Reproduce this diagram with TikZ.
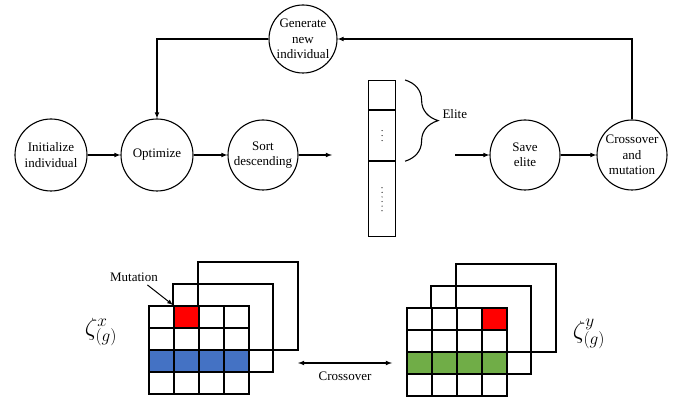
\documentclass[tikz,border=0pt]{standalone}
\usepackage{fontspec}
\setmainfont{Liberation Serif}
\usepackage{xcolor}
\usetikzlibrary{arrows,decorations.pathreplacing}
\definecolor{cellred}{RGB}{255,0,0}
\definecolor{cellblue}{RGB}{68,114,196}
\definecolor{cellgreen}{RGB}{112,173,71}
\tikzset{
	stage/.style={circle, draw, line width=1.1pt, minimum size=#1, inner sep=-1pt, align=center},
	stage/.default=72pt,
	link/.style={-latex, line width=1.1pt},
	slot/.style={draw, line width=1.1pt, minimum width=27pt, inner sep=0pt},
	cell/.style={draw, line width=1.4pt, fill=white},
	layer/.style={draw, line width=1.2pt},
	greek/.style={font=\fontsize{24}{28}\selectfont}
}

\begin{document}
\begin{tikzpicture}[x=1pt, y=-1pt, font=\fontsize{13}{15.5}\selectfont]
	\useasboundingbox (0,0) rectangle (681,398);

	% loop of stages
	\node[stage] (init) at (51,155) {Initialize\\individual};
	\node[stage] (opt) at (157,155) {Optimize};
	\node[stage=70pt] (sort) at (263,155) {Sort\\descending};
	\node[stage=70pt] (save) at (525,155) {Save\\elite};
	\node[stage=70pt] (cross) at (632,155) {Crossover\\and\\mutation};
	\node[stage=68pt, inner sep=-2pt] (gen) at (303,39) {Generate\\new\\individual};

	\coordinate (sortout) at (332,155);
	\coordinate (savein) at (455,155);

	\draw[link] (init) -- (opt);
	\draw[link] (opt) -- (sort);
	\draw[link] (sort) -- (sortout);
	\draw[link] (savein) -- (save);
	\draw[link] (save) -- (cross);
	\draw[link] (cross.north) |- (gen.east);
	\draw[link] (gen.west) -| (opt.north);

	% sorted population
	\node[slot, minimum height=29pt, anchor=north west] (c1) at (368,80) {};
	\node[slot, minimum height=50pt, anchor=north] (c2) at (c1.south) {};
	\node[slot, minimum height=75pt, anchor=north] (c3) at (c2.south) {};
	\foreach \k in {-1,0,1}
		\fill (c2.center) ++(0,5*\k) circle (0.6pt);
	\foreach \k in {0,...,5}
		\fill (c3.center) ++(0,-11.5+4.6*\k) circle (0.6pt);

	\draw[line width=1.1pt, decorate, decoration={brace, amplitude=33pt}]
		([xshift=9pt]c1.north east) -- ([xshift=9pt]c2.south east);
	\node[anchor=west] (elite) at (439,114) {Elite};

	% parent x
	\draw[layer] (198,262) rectangle ++(100,88);
	\draw[layer] (173,284) rectangle ++(100,88);
	\foreach \i in {0,...,3}
		\foreach \j in {0,...,3}
			\draw[cell] ({149+25*\i},{306+22*\j}) rectangle ++(25,22);
	\draw[cell, fill=cellred] (174,306) rectangle ++(25,22);
	\foreach \i in {0,...,3}
		\draw[cell, fill=cellblue] ({149+25*\i},350) rectangle ++(25,22);

	\node (mut) at (134,277) {Mutation};
	\coordinate (mutpt) at (173,305);
	\draw[link, line width=1pt] ([xshift=-14pt]mut.south east) -- (mutpt);

	\node[greek] (zx) at (101,332) {$\zeta^{x}_{(g)}$};

	% parent y
	\draw[layer] (456,264) rectangle ++(100,88);
	\draw[layer] (431,286) rectangle ++(100,88);
	\foreach \i in {0,...,3}
		\foreach \j in {0,...,3}
			\draw[cell] ({407+25*\i},{308+22*\j}) rectangle ++(25,22);
	\draw[cell, fill=cellred] (482,308) rectangle ++(25,22);
	\foreach \i in {0,...,3}
		\draw[cell, fill=cellgreen] ({407+25*\i},352) rectangle ++(25,22);

	\node[greek] (zy) at (589,334) {$\zeta^{y}_{(g)}$};

	% crossover
	\coordinate (xl) at (298,363);
	\coordinate (xr) at (392,363);
	\draw[latex-latex, line width=1.1pt] (xl) -- (xr) node[midway, below=5pt] (xo) {Crossover};
\end{tikzpicture}
\end{document}
